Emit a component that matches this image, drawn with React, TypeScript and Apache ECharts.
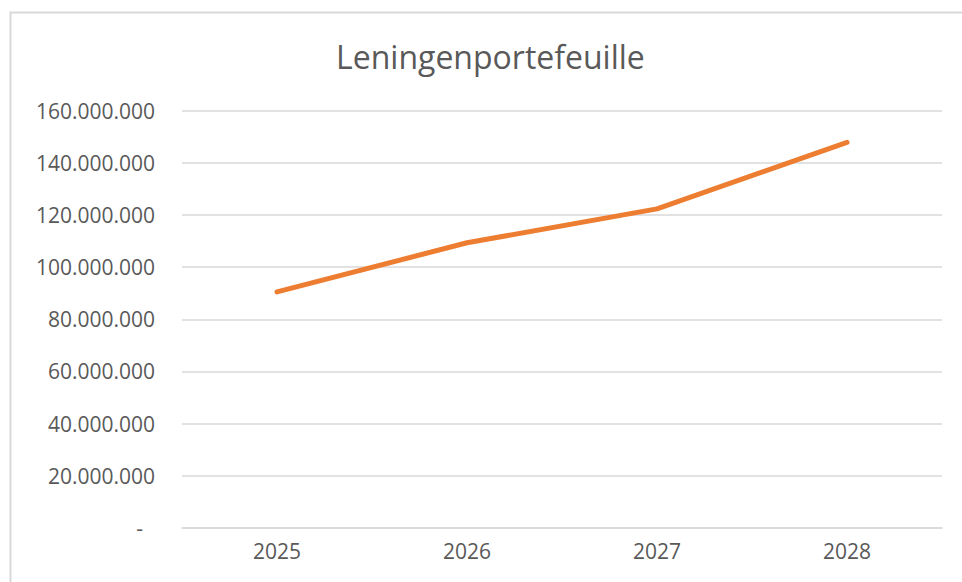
import React, { useEffect, useRef } from "react";
import * as echarts from "echarts";

const title = "Leningenportefeuille";
const categories = ["2025", "2026", "2027", "2028"];
const portfolio = [90500000, 109300000, 122300000, 147800000];
const yMin = 0;
const yMax = 160000000;
const yInterval = 20000000;

function formatNumber(v: number): string {
  if (v === 0) return "{z|-}";
  return String(Math.round(v)).replace(/\B(?=(\d{3})+(?!\d))/g, ".");
}

export default function App() {
  const ref = useRef<HTMLDivElement>(null);
  useEffect(() => {
    if (!ref.current) return;
    const chart = echarts.init(ref.current, null, { renderer: "svg" });
    const font = "'Open Sans', sans-serif";
    chart.setOption({
      animation: false,
      backgroundColor: "#ffffff",
      graphic: [
        {
          type: "rect",
          shape: { x: 10.5, y: 12.5, width: 1000, height: 700 },
          style: { fill: "none", stroke: "#d9d9d9", lineWidth: 2 },
          silent: true,
        },
      ],
      title: {
        text: title,
        left: 331,
        top: 35,
        textStyle: { fontFamily: font, fontSize: 32, fontWeight: "normal", color: "#595959" },
      },
      grid: { left: 182, right: 20, top: 110.5, bottom: 54, containLabel: false },
      xAxis: {
        type: "category",
        data: categories,
        boundaryGap: true,
        axisLine: { show: true, lineStyle: { color: "#d9d9d9", width: 1.5 } },
        axisTick: { show: false },
        axisLabel: { fontFamily: font, fontSize: 21, color: "#595959", margin: 12 },
      },
      yAxis: {
        type: "value",
        min: yMin,
        max: yMax,
        interval: yInterval,
        axisLine: { show: false },
        axisTick: { show: false },
        splitLine: { lineStyle: { color: "#d9d9d9", width: 1.5 } },
        axisLabel: {
          fontFamily: font,
          fontSize: 21,
          color: "#595959",
          margin: 27,
          formatter: (v: number) => formatNumber(v),
          rich: { z: { fontFamily: font, fontSize: 21, color: "#595959", padding: [0, 12, 0, 0] } },
        },
      },
      series: [
        {
          type: "line",
          data: portfolio,
          symbol: "none",
          lineStyle: { color: "#ED7D31", width: 5, cap: "round", join: "round" },
          itemStyle: { color: "#ED7D31" },
        },
      ],
    });
    return () => chart.dispose();
  }, []);
  return (
    <div
      ref={ref}
      style={{ position: "fixed", left: 0, top: 0, width: 962, height: 582 }}
    />
  );
}
